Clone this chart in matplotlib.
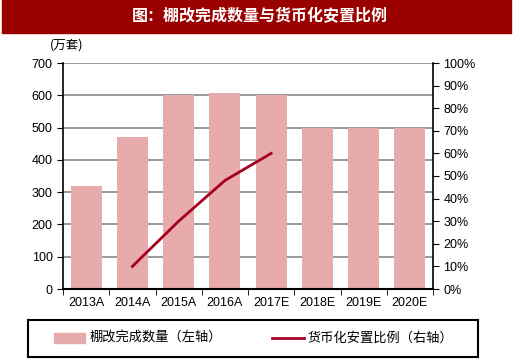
import matplotlib.pyplot as plt
import matplotlib.patches as mpatches
from matplotlib.lines import Line2D

plt.rcParams['font.family'] = ['Liberation Sans', 'Noto Sans CJK SC', 'DejaVu Sans']

years = ["2013A", "2014A", "2015A", "2016A", "2017E", "2018E", "2019E", "2020E"]
completed = [320, 470, 600, 607, 600, 500, 500, 500]  # 万套
ratio_years = ["2014A", "2015A", "2016A", "2017E"]
ratio = [10, 30, 48, 60]  # %

bar_color = "#E8ABAB"
line_color = "#A50021"
title_color = "#9B0000"
cjk = ['Noto Sans CJK SC', 'DejaVu Sans']

fig = plt.figure(figsize=(5.19, 3.6), dpi=100)

# title bar
fig.patches.append(mpatches.Rectangle((2 / 519, 1 - 33 / 360), 509 / 519, 33 / 360,
                                      transform=fig.transFigure, color=title_color, zorder=0))
fig.text(0.5, 1 - 16 / 360, "图：棚改完成数量与货币化安置比例", color="white", fontsize=11.5,
         fontweight="bold", ha="center", va="center", family=cjk)

ax = fig.add_axes([63 / 519, 1 - 289 / 360, 370 / 519, 226 / 360])
x = list(range(len(years)))
ax.bar(x, completed, width=0.67, color=bar_color, zorder=2)
ax.set_xlim(-0.5, len(years) - 0.5)
ax.set_ylim(0, 700)
ax.set_yticks(range(0, 701, 100))
ax.yaxis.grid(True, color="#888888", linewidth=1.2, zorder=1)
ax.set_axisbelow(True)
ax.set_xticks(x)
ax.set_xticklabels(years, fontsize=9)
ax.set_xticks([i - 0.5 for i in range(len(years) + 1)], minor=True)
ax.tick_params(axis="x", which="major", length=0, pad=6)
ax.tick_params(axis="x", which="minor", length=4, direction="out")
ax.tick_params(axis="y", labelsize=9, length=4, direction="out")
for s in ["top", "right"]:
    ax.spines[s].set_visible(False)
ax.spines["left"].set_linewidth(1.2)
ax.spines["bottom"].set_linewidth(1.5)
fig.text(50 / 519, 1 - 45 / 360, "(万套)", fontsize=9, va="center", family=cjk)

ax2 = ax.twinx()
rx = [years.index(y) for y in ratio_years]
ax2.plot(rx, ratio, color=line_color, linewidth=2, zorder=3)
ax2.set_ylim(0, 100)
ax2.set_yticks(range(0, 101, 10))
ax2.set_yticklabels([f"{v}%" for v in range(0, 101, 10)])
ax2.tick_params(axis="y", labelsize=9, length=4, direction="out")
for s in ["top", "left", "bottom"]:
    ax2.spines[s].set_visible(False)
ax2.spines["right"].set_linewidth(1.2)

# legend box
lax = fig.add_axes([28 / 519, 1 - 357 / 360, 450 / 519, 37 / 360])
lax.set_xlim(0, 450)
lax.set_ylim(0, 37)
lax.set_xticks([])
lax.set_yticks([])
for s in lax.spines.values():
    s.set_linewidth(1.5)
lax.add_patch(mpatches.Rectangle((26, 14), 31, 10, color=bar_color))
lax.text(62, 19, "棚改完成数量（左轴）", fontsize=9.5, va="center", family=cjk)
lax.add_line(Line2D([244, 276], [19, 19], color=line_color, linewidth=2))
lax.text(280, 19, "货币化安置比例（右轴）", fontsize=9.5, va="center", family=cjk)

fig.savefig("out.png", dpi=100)
